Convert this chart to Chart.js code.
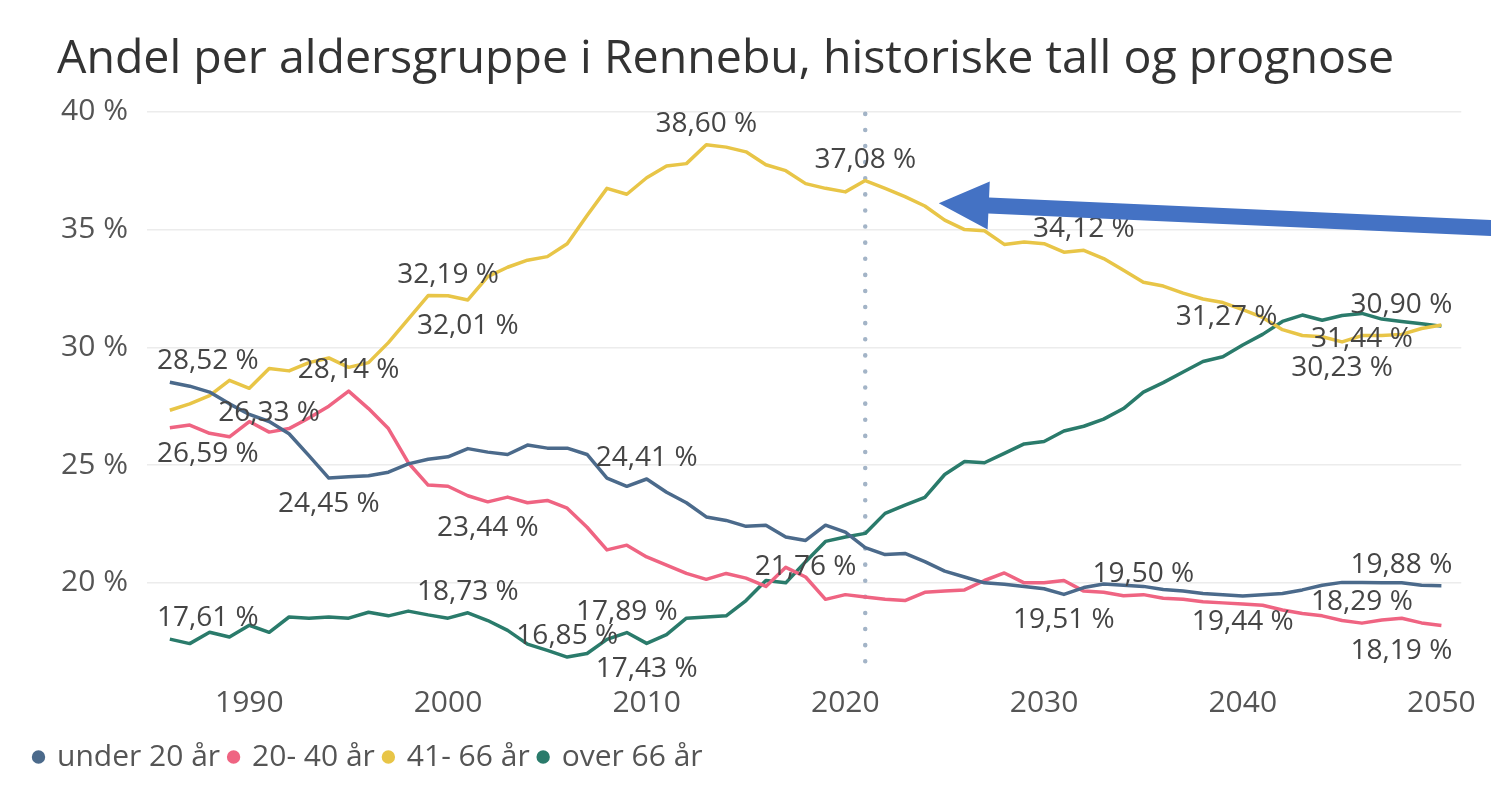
<!DOCTYPE html>
<html>
<head>
<meta charset="utf-8">
<title>Andel per aldersgruppe i Rennebu</title>
<script src="https://cdn.jsdelivr.net/npm/chart.js@4/dist/chart.umd.min.js"></script>
<style>
  html, body { margin: 0; padding: 0; background: #fff; }
</style>
</head>
<body>
<canvas id="ageChart" width="1491" height="788"></canvas>
<script>
const years = [
  1986, 1987, 1988, 1989, 1990, 1991, 1992, 1993, 1994, 1995,
  1996, 1997, 1998, 1999, 2000, 2001, 2002, 2003, 2004, 2005,
  2006, 2007, 2008, 2009, 2010, 2011, 2012, 2013, 2014, 2015,
  2016, 2017, 2018, 2019, 2020, 2021, 2022, 2023, 2024, 2025,
  2026, 2027, 2028, 2029, 2030, 2031, 2032, 2033, 2034, 2035,
  2036, 2037, 2038, 2039, 2040, 2041, 2042, 2043, 2044, 2045,
  2046, 2047, 2048, 2049, 2050
];

const under20 = [
  28.52, 28.35, 28.10, 27.60, 27.15, 26.85, 26.33, 25.40, 24.45, 24.50,
  24.55, 24.70, 25.05, 25.25, 25.35, 25.70, 25.55, 25.45, 25.85, 25.72,
  25.72, 25.45, 24.45, 24.10, 24.41, 23.85, 23.40, 22.80, 22.65, 22.40,
  22.45, 21.95, 21.80, 22.45, 22.15, 21.50, 21.20, 21.25, 20.90, 20.50,
  20.25, 20.00, 19.94, 19.85, 19.75, 19.51, 19.80, 19.95, 19.90, 19.85,
  19.72, 19.65, 19.55, 19.50, 19.44, 19.50, 19.55, 19.70, 19.90, 20.02,
  20.02, 20.00, 20.00, 19.90, 19.88
];

const age20to40 = [
  26.59, 26.70, 26.35, 26.20, 26.85, 26.40, 26.55, 27.00, 27.50, 28.14,
  27.40, 26.55, 25.10, 24.15, 24.10, 23.70, 23.44, 23.64, 23.40, 23.50,
  23.17, 22.36, 21.40, 21.60, 21.10, 20.75, 20.40, 20.15, 20.40, 20.20,
  19.85, 20.66, 20.25, 19.30, 19.50, 19.40, 19.30, 19.25, 19.60, 19.65,
  19.70, 20.10, 20.42, 20.00, 20.00, 20.10, 19.65, 19.60, 19.45, 19.50,
  19.35, 19.30, 19.20, 19.15, 19.10, 19.05, 18.85, 18.70, 18.60, 18.40,
  18.29, 18.42, 18.50, 18.30, 18.19
];

const age41to66 = [
  27.33, 27.60, 27.95, 28.60, 28.26, 29.10, 29.00, 29.35, 29.55, 29.15,
  29.35, 30.20, 31.20, 32.20, 32.19, 32.01, 33.00, 33.40, 33.70, 33.85,
  34.40, 35.60, 36.75, 36.50, 37.20, 37.70, 37.80, 38.60, 38.50, 38.30,
  37.75, 37.50, 36.95, 36.75, 36.60, 37.08, 36.75, 36.40, 36.00, 35.40,
  35.00, 34.95, 34.37, 34.47, 34.40, 34.04, 34.12, 33.77, 33.27, 32.76,
  32.60, 32.30, 32.05, 31.90, 31.60, 31.27, 30.75, 30.50, 30.45, 30.23,
  30.50, 30.50, 30.55, 30.80, 30.95
];

const over66 = [
  17.61, 17.42, 17.90, 17.70, 18.20, 17.90, 18.55, 18.50, 18.55, 18.50,
  18.75, 18.60, 18.80, 18.64, 18.50, 18.73, 18.40, 17.98, 17.40, 17.13,
  16.85, 17.00, 17.60, 17.89, 17.43, 17.80, 18.50, 18.55, 18.60, 19.25,
  20.10, 20.00, 20.90, 21.76, 21.95, 22.10, 22.95, 23.30, 23.63, 24.60,
  25.15, 25.10, 25.50, 25.90, 26.00, 26.45, 26.65, 26.95, 27.40, 28.10,
  28.50, 28.95, 29.40, 29.60, 30.10, 30.55, 31.10, 31.37, 31.15, 31.35,
  31.44, 31.20, 31.10, 31.00, 30.90
];

const seriesNames = ['under 20 år', '20- 40 år', '41- 66 år', 'over 66 år'];
const seriesValues = [under20, age20to40, age41to66, over66];
const seriesColors = ['#4b6a8b', '#ef6482', '#e8c547', '#2a7b6b'];

const xTicks = [1990, 2000, 2010, 2020, 2030, 2040, 2050];
const yTicks = [20, 25, 30, 35, 40];

// last year of historic numbers, where the dotted line sits
const forecastStart = 2021;

// [series, year, where, extra x shift]
const labelSpots = [
  [0, 1986, 'above'], [0, 1992, 'above', -20], [0, 1994, 'below'], [0, 2010, 'above'],
  [0, 2031, 'below'], [0, 2040, 'below'], [0, 2050, 'above'],
  [1, 1986, 'below'], [1, 1995, 'above'], [1, 2002, 'below'], [1, 2035, 'above'],
  [1, 2046, 'above'], [1, 2050, 'below'],
  [2, 2000, 'above'], [2, 2001, 'below'], [2, 2013, 'above'], [2, 2021, 'above'],
  [2, 2032, 'above'], [2, 2041, 'on', -36], [2, 2045, 'below'],
  [3, 1986, 'above'], [3, 2001, 'above'], [3, 2006, 'above'], [3, 2009, 'above'],
  [3, 2010, 'below'], [3, 2019, 'below', -20], [3, 2046, 'below'], [3, 2050, 'above']
];

// arrow drawn over the chart: tip (year, %) and tail height in %
const arrowTip = [2024.7, 36.12];
const arrowTailValue = 35.06;

const fontFamily = "'Open Sans', 'Noto Sans', sans-serif";

const datasets = seriesValues.map((vals, i) => ({
  label: seriesNames[i],
  data: years.map((yr, j) => ({ x: yr, y: vals[j] })),
  borderColor: seriesColors[i],
  backgroundColor: seriesColors[i],
  borderWidth: 3.5,
  pointRadius: 0,
  tension: 0,
  borderJoinStyle: 'round'
}));

const shiftBlocks = {
  id: 'shiftBlocks',
  afterLayout(chart) {
    chart.titleBlock.left += 16;
    chart.legend.left -= 16;
  }
};

const nowLine = {
  id: 'nowLine',
  beforeDatasetsDraw(chart) {
    const { ctx, chartArea, scales } = chart;
    const x = scales.x.getPixelForValue(forecastStart);
    ctx.save();
    ctx.strokeStyle = '#a3b4c7';
    ctx.lineWidth = 4.5;
    ctx.lineCap = 'round';
    ctx.setLineDash([0.1, 16]);
    ctx.beginPath();
    ctx.moveTo(x, chartArea.top + 2);
    ctx.lineTo(x, chartArea.bottom - 2);
    ctx.stroke();
    ctx.restore();
  }
};

const valueLabels = {
  id: 'valueLabels',
  afterDatasetsDraw(chart) {
    const { ctx, chartArea, scales } = chart;
    ctx.save();
    ctx.font = '28px ' + fontFamily;
    ctx.fillStyle = '#454545';
    ctx.textAlign = 'center';
    ctx.textBaseline = 'middle';
    labelSpots.forEach(([ds, year, where, dx]) => {
      const v = seriesValues[ds][years.indexOf(year)];
      const text = v.toFixed(2).replace('.', ',') + ' %';
      const w = ctx.measureText(text).width;
      let x = scales.x.getPixelForValue(year) + (dx || 0);
      let y = scales.y.getPixelForValue(v);
      if (where === 'above') y -= 21;
      if (where === 'below') y += 26;
      x = Math.max(chartArea.left + 10 + w / 2, Math.min(chartArea.right - 9 - w / 2, x));
      ctx.fillText(text, x, y);
    });
    ctx.restore();
  }
};

const arrow = {
  id: 'arrow',
  afterDraw(chart) {
    const { ctx, scales } = chart;
    const tipX = scales.x.getPixelForValue(arrowTip[0]);
    const tipY = scales.y.getPixelForValue(arrowTip[1]);
    const tailX = chart.width + 5;
    const tailY = scales.y.getPixelForValue(arrowTailValue);
    const len = Math.hypot(tailX - tipX, tailY - tipY);
    ctx.save();
    ctx.translate(tipX, tipY);
    ctx.rotate(Math.atan2(tailY - tipY, tailX - tipX));
    ctx.fillStyle = '#4472c4';
    ctx.beginPath();
    ctx.moveTo(0, 0);
    ctx.lineTo(50, -24);
    ctx.lineTo(50, -8);
    ctx.lineTo(len, -8);
    ctx.lineTo(len, 8);
    ctx.lineTo(50, 8);
    ctx.lineTo(50, 24);
    ctx.closePath();
    ctx.fill();
    ctx.restore();
  }
};

const chart = new Chart(document.getElementById('ageChart'), {
  type: 'line',
  data: { datasets: datasets },
  plugins: [shiftBlocks, nowLine, valueLabels, arrow],
  options: {
    responsive: false,
    animation: false,
    events: [],
    layout: { padding: { left: 41, right: 19, top: 0, bottom: 6 } },
    plugins: {
      tooltip: { enabled: false },
      title: {
        display: true,
        text: 'Andel per aldersgruppe i Rennebu, historiske tall og prognose',
        align: 'start',
        color: '#333333',
        font: { family: fontFamily, size: 46.5, weight: 'normal' },
        padding: { top: 32, bottom: 24 }
      },
      legend: {
        position: 'bottom',
        align: 'start',
        labels: {
          usePointStyle: true,
          pointStyle: 'circle',
          boxWidth: 7,
          boxHeight: 7,
          padding: 10,
          color: '#555555',
          font: { family: fontFamily, size: 30 }
        }
      }
    },
    scales: {
      x: {
        type: 'linear',
        min: 1984.85,
        max: 2051,
        grid: { display: false, drawTicks: false },
        border: { display: false },
        afterBuildTicks: axis => { axis.ticks = xTicks.map(v => ({ value: v })); },
        afterFit: axis => { axis.height = 62; },
        ticks: {
          padding: 15,
          color: '#555555',
          font: { family: fontFamily, size: 30 },
          callback: v => String(v)
        }
      },
      y: {
        min: 16.3,
        max: 40,
        grid: { color: '#ececec', lineWidth: 1.5, drawTicks: false },
        border: { display: false },
        afterBuildTicks: axis => { axis.ticks = yTicks.map(v => ({ value: v })); },
        afterFit: axis => { axis.width = 106; },
        ticks: {
          padding: 19,
          color: '#555555',
          font: { family: fontFamily, size: 30 },
          callback: v => v + ' %'
        }
      }
    }
  }
});
</script>
</body>
</html>
